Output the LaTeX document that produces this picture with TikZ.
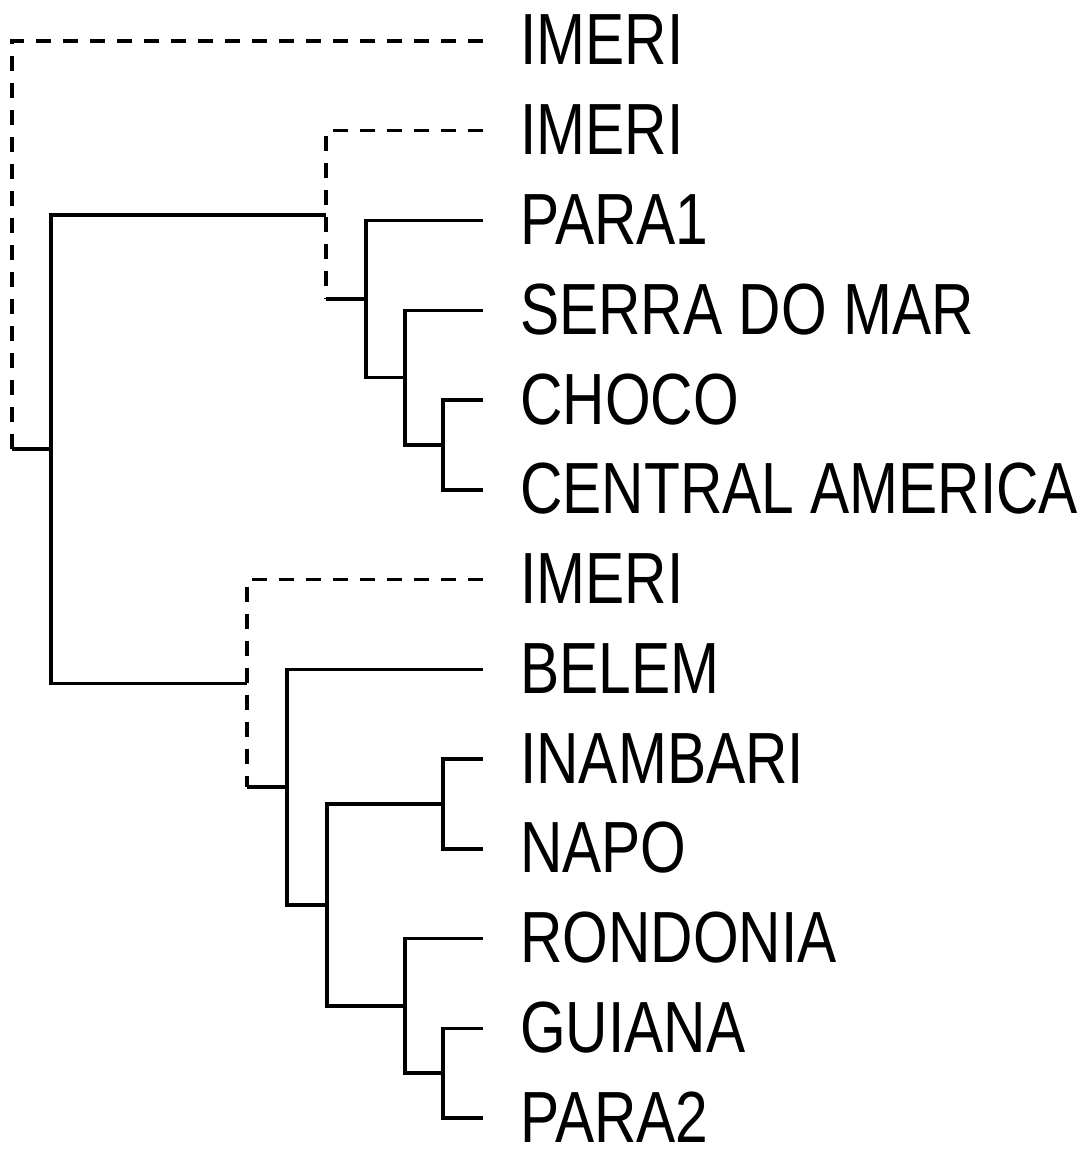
\documentclass[tikz,border=0pt]{standalone}
\usepackage{fontspec}
\newfontfamily\leaffont{Liberation Sans}[FakeStretch=0.81]
\begin{document}
\begin{tikzpicture}[x=1pt,y=-1pt,
  branch/.style={line width=3.5pt, line join=miter},
  uncertain/.style={branch, dash pattern=on 15pt off 12pt},
  leaflabel/.style={anchor=base west, inner sep=0pt, text depth=0pt, font=\leaffont\fontsize{72.5}{80}\selectfont}]
\useasboundingbox (0,0) rectangle (1089,1153);
% leaf tips and labels
\foreach \i/\y/\t in {1/41/IMERI, 2/130.75/IMERI, 3/220.5/PARA1, 4/310.25/SERRA DO MAR,
  5/400/CHOCO, 6/489.75/CENTRAL AMERICA, 7/579.5/IMERI, 8/669.25/BELEM,
  9/759/INAMBARI, 10/848.75/NAPO, 11/938.5/RONDONIA, 12/1028.25/GUIANA, 13/1118/PARA2} {
  \coordinate (t\i) at (483,\y);
  \node[leaflabel] (l\i) at (520,\y+24) {\t};
}
% internal nodes
\coordinate (root) at (12,245);
\coordinate (ul)  at (51,449.1);
\coordinate (im2) at (326,214.9);
\coordinate (pa)  at (366,299);
\coordinate (sm)  at (405,377.6);
\coordinate (cc)  at (443,444.9);
\coordinate (im3) at (247,683.3);
\coordinate (be)  at (287,787.1);
\coordinate (ir)  at (327,904.8);
\coordinate (in)  at (443,803.9);
\coordinate (ro)  at (405,1005.8);
\coordinate (gp)  at (443,1073.1);
% root
\draw[uncertain] (t1) -| (root |- ul);
\draw[branch] (root |- ul) -- (ul);
\draw[branch] (ul) |- (im2);
\draw[branch] (ul) |- (im3);
% upper clade
\draw[uncertain] (t2) -| (im2 |- pa);
\draw[branch] (im2 |- pa) -- (pa);
\draw[branch] (pa) |- (t3);
\draw[branch] (pa) |- (sm);
\draw[branch] (sm) |- (t4);
\draw[branch] (sm) |- (cc);
\draw[branch] (cc) |- (t5);
\draw[branch] (cc) |- (t6);
% lower clade
\draw[uncertain] (t7) -| (im3 |- be);
\draw[branch] (im3 |- be) -- (be);
\draw[branch] (be) |- (t8);
\draw[branch] (be) |- (ir);
\draw[branch] (ir) |- (in);
\draw[branch] (ir) |- (ro);
\draw[branch] (in) |- (t9);
\draw[branch] (in) |- (t10);
\draw[branch] (ro) |- (t11);
\draw[branch] (ro) |- (gp);
\draw[branch] (gp) |- (t12);
\draw[branch] (gp) |- (t13);
\end{tikzpicture}
\end{document}
